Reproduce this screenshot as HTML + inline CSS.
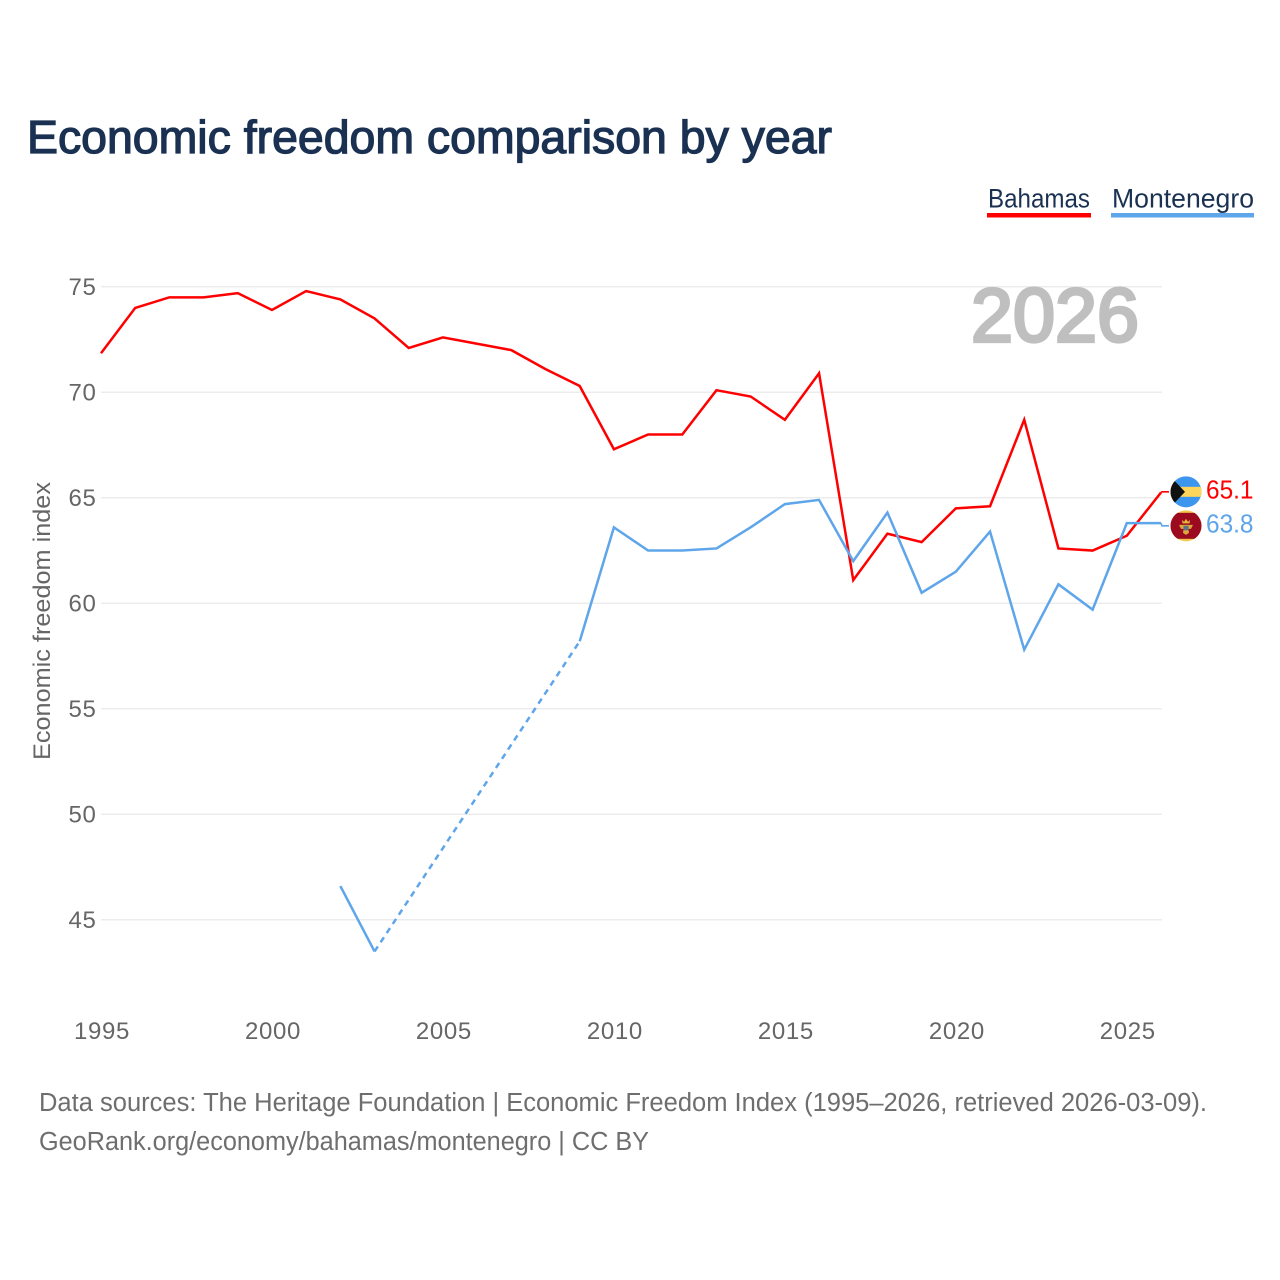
<!DOCTYPE html>
<html lang="en">
<head>
<meta charset="utf-8">
<title>Economic freedom comparison by year</title>
<style>
  html, body { margin: 0; padding: 0; background: #fff; }
  svg { display: block; font-family: "Liberation Sans", sans-serif; }
  .tick { font-size: 24px; fill: #666; letter-spacing: 0.65px; }
  .foot { font-size: 25.5px; fill: #6e6e6e; }
  .legend { font-size: 26.5px; fill: #1a3152; }
</style>
</head>
<body>
<svg id="chart" xmlns="http://www.w3.org/2000/svg" width="1280" height="1280" viewBox="0 0 1280 1280">
  <rect x="0" y="0" width="1280" height="1280" fill="#fff"/>
  <text x="27" y="153" font-size="46" fill="#1a3152" stroke="#1a3152" stroke-width="1.3" textLength="805" lengthAdjust="spacingAndGlyphs">Economic freedom comparison by year</text>

  <g>
    <text class="legend" x="988" y="207.5" textLength="102" lengthAdjust="spacingAndGlyphs">Bahamas</text>
    <rect x="987" y="213" width="104" height="4.5" fill="#ff0000"/>
  </g>
  <g>
    <text class="legend" x="1112" y="207.5" textLength="142" lengthAdjust="spacingAndGlyphs">Montenegro</text>
    <rect x="1111" y="213" width="143" height="4.5" fill="#5ea5ea"/>
  </g>

  <g id="grid"></g>
  <text x="971" y="341.5" font-size="76" fill="#bfbfbf" stroke="#bfbfbf" stroke-width="3.2" textLength="168" lengthAdjust="spacingAndGlyphs">2026</text>
  <g id="yticks"></g>
  <g id="xticks"></g>
  <text transform="translate(50,621) rotate(-90)" text-anchor="middle" font-size="24" fill="#666" textLength="278" lengthAdjust="spacingAndGlyphs">Economic freedom index</text>
  <g id="series"></g>

  <defs>
    <clipPath id="flag-clip"><circle cx="0" cy="0" r="15.5"/></clipPath>
  </defs>
  <g id="flag-bahamas">
    <g clip-path="url(#flag-clip)">
      <rect x="-16" y="-16" width="32" height="32" fill="#3d96ee"/>
      <rect x="-16" y="-5" width="32" height="10" fill="#fdd55a"/>
      <polygon points="-18,-18 -1,0 -18,18" fill="#111"/>
    </g>
  </g>
  <g id="flag-montenegro">
    <g clip-path="url(#flag-clip)">
      <rect x="-16" y="-16" width="32" height="32" fill="#f2c94c"/>
      <rect x="-16" y="-13" width="32" height="26" fill="#9c0a1f"/>
      <polygon points="-4,-6 -2,-4 0,-7 2,-4 4,-6 3.5,-2.5 -3.5,-2.5" fill="#e5b73b"/>
      <polygon points="-7,-1 7,-1 5,3 2.5,3 3,7 0,9 -3,7 -2.5,3 -5,3" fill="#d9a93a"/>
      <rect x="-2.5" y="0" width="5" height="4.5" fill="#5f7186"/>
    </g>
  </g>
  <g id="end-labels"></g>

  <text class="foot" x="39" y="1111" textLength="1168" lengthAdjust="spacingAndGlyphs">Data sources: The Heritage Foundation | Economic Freedom Index (1995–2026, retrieved 2026-03-09).</text>
  <text class="foot" x="39" y="1150" textLength="610" lengthAdjust="spacingAndGlyphs">GeoRank.org/economy/bahamas/montenegro | CC BY</text>
</svg>
<script>
const years = [1995,1996,1997,1998,1999,2000,2001,2002,2003,2004,2005,2006,2007,2008,2009,2010,2011,2012,2013,2014,2015,2016,2017,2018,2019,2020,2021,2022,2023,2024,2025,2026];
const bahamasValues = [71.85,74.0,74.5,74.5,74.7,73.9,74.8,74.4,73.5,72.1,72.6,72.3,72.0,71.1,70.3,67.3,68.0,68.0,70.1,69.8,68.7,70.9,61.1,63.3,62.9,64.5,64.6,68.7,62.6,62.5,63.2,65.25];
const montenegroValues = [null,null,null,null,null,null,null,46.6,43.5,null,null,null,null,null,58.2,63.6,62.5,62.5,62.6,63.6,64.7,64.9,62.0,64.3,60.5,61.5,63.4,57.8,60.9,59.7,63.8,63.8];
const yTickLabels = [45,50,55,60,65,70,75];
const xTickLabels = [1995,2000,2005,2010,2015,2020,2025];
const bahamasPrinted = "65.1";
const montenegroPrinted = "63.8";

const NS = "http://www.w3.org/2000/svg";
const xScale = function (year) { return 101 + (year - 1995) * (1060 / 31); };
const yScale = function (value) { return 286.8 + (75 - value) * (633 / 30); };
const RED = "#ff0000";
const BLUE = "#5ea5ea";

function make(tag, parent) {
  const el = document.createElementNS(NS, tag);
  parent.appendChild(el);
  return el;
}

const gridGroup = document.getElementById("grid");
const yTickGroup = document.getElementById("yticks");
yTickLabels.forEach(function (tick) {
  const line = make("line", gridGroup);
  
  
  line.setAttribute("x1", 101);
  line.setAttribute("x2", 1162);
  line.setAttribute("y1", yScale(tick));
  line.setAttribute("y2", yScale(tick));
  line.setAttribute("stroke", "#ececec");
  line.setAttribute("stroke-width", "1.5");
  const label = make("text", yTickGroup);
  
  
  label.setAttribute("class", "tick");
  label.setAttribute("x", 96.5);
  label.setAttribute("y", yScale(tick) + 8);
  label.setAttribute("text-anchor", "end");
  label.textContent = tick;
});

const xTickGroup = document.getElementById("xticks");
xTickLabels.forEach(function (tick) {
  const label = make("text", xTickGroup);
  
  
  label.setAttribute("class", "tick");
  label.setAttribute("x", xScale(tick) + 1);
  label.setAttribute("y", 1039);
  label.setAttribute("text-anchor", "middle");
  label.textContent = tick;
});

const seriesGroup = document.getElementById("series");
function drawSeries(values, color, seriesName) {
  let run = [];
  let prev = -1;
  function flush() {
    if (run.length > 1) {
      const solid = make("polyline", seriesGroup);
      
      
      solid.setAttribute("data-series", seriesName);
      solid.setAttribute("points", run.join(" "));
      solid.setAttribute("fill", "none");
      solid.setAttribute("stroke", color);
      solid.setAttribute("stroke-width", "2.5");
      solid.setAttribute("stroke-linejoin", "miter");
    }
    run = [];
  }
  values.forEach(function (value, i) {
    if (value === null) { return; }
    const px = xScale(years[i]);
    const py = yScale(value);
    if (prev >= 0 && i - prev > 1) {
      flush();
      const gap = make("line", seriesGroup);
      
      
      gap.setAttribute("data-series", seriesName);
      gap.setAttribute("x1", xScale(years[prev]));
      gap.setAttribute("y1", yScale(values[prev]));
      gap.setAttribute("x2", px);
      gap.setAttribute("y2", py);
      gap.setAttribute("stroke", color);
      gap.setAttribute("stroke-width", "2.5");
      gap.setAttribute("stroke-dasharray", "6 5");
    }
    run.push(px + "," + py);
    prev = i;
  });
  flush();
}
drawSeries(bahamasValues, RED, "bahamas");
drawSeries(montenegroValues, BLUE, "montenegro");

/* End labels: two labels pushed apart around their midpoint */
const lastBahamas = yScale(bahamasValues[bahamasValues.length - 1]);
const lastMontenegro = yScale(montenegroValues[montenegroValues.length - 1]);
const mid = (lastBahamas + lastMontenegro) / 2 + 1;
const upper = lastBahamas <= lastMontenegro;
const labelBahamasY = mid + (upper ? -17 : 17);
const labelMontenegroY = mid + (upper ? 17 : -17);
const endX = xScale(2026);
const endLabelGroup = document.getElementById("end-labels");

function drawEnd(lastY, labelY, color, printed, flagId) {
  const stub = make("polyline", seriesGroup);
  
  
  stub.setAttribute("points", endX + "," + lastY + " " + (endX + 1) + "," + labelY + " 1169," + labelY);
  stub.setAttribute("fill", "none");
  stub.setAttribute("stroke", color);
  stub.setAttribute("stroke-width", "1.6");
  document.getElementById(flagId).setAttribute("transform", "translate(1186," + labelY + ")");
  const text = make("text", endLabelGroup);
  
  
  text.setAttribute("x", 1206);
  text.setAttribute("y", labelY + 6.5);
  text.setAttribute("font-size", "26");
  text.setAttribute("fill", color);
  text.setAttribute("textLength", "47.5");
  text.setAttribute("lengthAdjust", "spacingAndGlyphs");
  text.textContent = printed;
}
drawEnd(lastBahamas, labelBahamasY, RED, bahamasPrinted, "flag-bahamas");
drawEnd(lastMontenegro, labelMontenegroY, BLUE, montenegroPrinted, "flag-montenegro");
</script>
</body>
</html>
